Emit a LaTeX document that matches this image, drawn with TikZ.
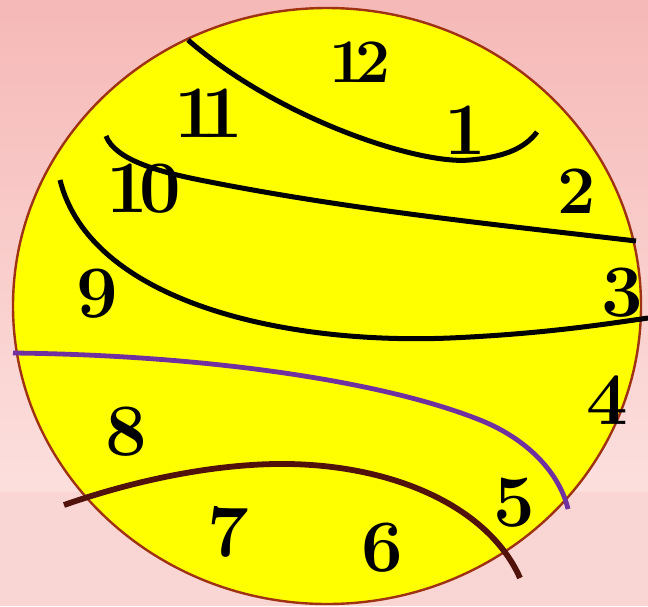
\documentclass[tikz,border=0pt]{standalone}
\usepackage{fontspec}
\begin{document}
\begin{tikzpicture}[x=1pt,y=-1pt,
  numlbl/.style={font=\fontsize{74}{74}\bfseries\selectfont, inner sep=0pt, anchor=center},
  curveblk/.style={line width=5pt, draw=black},
  outline/.style={line width=2.4pt, draw=rimcol, fill=faceyel}]
\definecolor{faceyel}{RGB}{255,255,0}
\definecolor{pinktop}{RGB}{245,185,183}
\definecolor{pinkmid}{RGB}{252,223,221}
\definecolor{pinkbot}{RGB}{249,214,211}
\definecolor{rimcol}{RGB}{160,50,20}
\definecolor{purp}{RGB}{112,48,160}
\definecolor{brn}{RGB}{80,18,10}
\useasboundingbox (0,0) rectangle (648,606);
\shade[top color=pinktop, bottom color=pinkmid] (0,0) rectangle (648,492);
\fill[pinkbot] (0,492) rectangle (648,606);
% face
\draw[outline] (327,306) ellipse [x radius=314, y radius=298];
% numbers
\node[numlbl, font=\fontsize{62}{62}\bfseries\selectfont] (n12) at (360,62) {1\kern-0.14em2};
\node[numlbl] (n11) at (209,113) {1\kern-0.2em1};
\node[numlbl] (n1) at (465,130) {1};
\node[numlbl] (n10) at (144,189) {1\kern-0.12em0};
\node[numlbl, font=\fontsize{68}{68}\bfseries\selectfont] (n2) at (577,191) {2};
\node[numlbl] (n9) at (97,294) {9};
\node[numlbl] (n3) at (622,293) {3};
\node[numlbl] (n4) at (607,400) {4};
\node[numlbl] (n8) at (126,432) {8};
\node[numlbl] (n5) at (514,503) {5};
\node[numlbl] (n7) at (228,532) {7};
\node[numlbl] (n6) at (382,548) {6};
% curves
\draw[curveblk] (188,40) .. controls (280,120) and (420,165) .. (470,160)
  .. controls (505,157) and (525,148) .. (537,132);
\draw[curveblk] (106,136) .. controls (115,160) and (160,172) .. (200,180)
  .. controls (350,210) and (500,225) .. (636,241);
\draw[curveblk] (60,180) .. controls (90,300) and (280,345) .. (450,338)
  .. controls (540,334) and (600,325) .. (648,318);
\draw[line width=4.8pt, draw=purp] (13,353) .. controls (200,355) and (380,380) .. (480,420)
  .. controls (530,440) and (560,475) .. (568,509);
\draw[line width=5.8pt, draw=brn] (64,505) .. controls (150,475) and (230,463) .. (289,464)
  .. controls (400,466) and (490,510) .. (520,578);
\end{tikzpicture}
\end{document}
